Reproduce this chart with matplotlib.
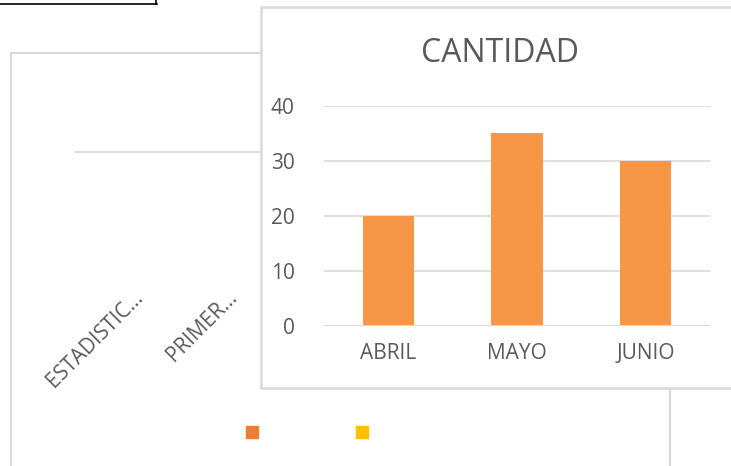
import matplotlib.pyplot as plt
from matplotlib.patches import Rectangle
from matplotlib.lines import Line2D

plt.rcParams['font.family'] = ['Open Sans', 'DejaVu Sans']

# datos del grafico de adelante
meses = ["ABRIL", "MAYO", "JUNIO"]
cantidad = [20, 35, 30]
y_ticks = [0, 10, 20, 30, 40]

# grafico de atras (casi tapado)
categorias_atras = ["ESTADISTIC...", "PRIMER..."]
colores_leyenda = ["#ED7D31", "#FFC000"]

W, H = 731, 466
fig = plt.figure(figsize=(W / 100, H / 100), dpi=100)


def caja(x0, y0, x1, y1):
    # pixeles -> fraccion de figura (y desde arriba)
    return [x0 / W, 1 - y1 / H, (x1 - x0) / W, (y1 - y0) / H]


gris = "#595959"
borde = "#d9d9d9"

# linea negra de arriba a la izquierda
fig.add_artist(Line2D([0, 157 / W], [1 - 4 / H, 1 - 4 / H], color="black", lw=1.2, transform=fig.transFigure))
fig.add_artist(Line2D([156 / W, 156 / W], [1, 1 - 4 / H], color="black", lw=1.2, transform=fig.transFigure))

# marco del grafico de atras
r = caja(11, 53, 670, 480)
fig.add_artist(Rectangle((r[0], r[1]), r[2], r[3], transform=fig.transFigure,
                         facecolor="white", edgecolor=borde, lw=1.5, zorder=1))

ax_b = fig.add_axes(caja(75, 152, 265, 276))
ax_b.set_zorder(2)
ax_b.patch.set_visible(False)
ax_b.set_xlim(-0.6, 1.4)
ax_b.set_ylim(0, 1)
ax_b.axhline(1, color=borde, lw=1.2, clip_on=False)
for s in ax_b.spines.values():
    s.set_visible(False)
ax_b.set_yticks([])
ax_b.set_xticks(range(len(categorias_atras)))
ax_b.set_xticklabels(categorias_atras, rotation=45, ha="right", va="top",
                     rotation_mode="anchor", fontsize=15, color=gris)
ax_b.tick_params(axis="x", length=0, pad=8)

handles = [Line2D([], [], marker="s", ls="", color=c, markersize=9) for c in colores_leyenda]
fig.legend(handles, ["", ""], loc="center", ncol=2, frameon=False,
           bbox_to_anchor=(307 / W, 1 - 433 / H), fontsize=10,
           handlelength=0.9, handletextpad=0, columnspacing=7.0)

# marco del grafico de adelante
r = caja(261, 7, 745, 388)
fig.add_artist(Rectangle((r[0], r[1]), r[2], r[3], transform=fig.transFigure,
                         facecolor="white", edgecolor=borde, lw=1.8, zorder=3))

ax = fig.add_axes(caja(324, 106, 710, 326))
ax.set_zorder(5)
ax.patch.set_visible(False)
ax.bar(meses, cantidad, width=0.4, color="#F79646", zorder=2)
ax.set_ylim(0, 40)
ax.set_xlim(-0.5, 2.5)
ax.set_yticks(y_ticks)
ax.grid(axis="y", color=borde, lw=1.2, zorder=0)
for s in ax.spines.values():
    s.set_visible(False)
ax.axhline(0, color=borde, lw=1.5, zorder=3)
ax.tick_params(axis="both", length=0, colors=gris, labelsize=15)
ax.tick_params(axis="y", pad=21)
ax.tick_params(axis="x", pad=12)
fig.text(500 / W, 1 - 53 / H, "CANTIDAD", ha="center", va="center", fontsize=23,
         color=gris, zorder=6)

fig.savefig("out.png", dpi=100)
